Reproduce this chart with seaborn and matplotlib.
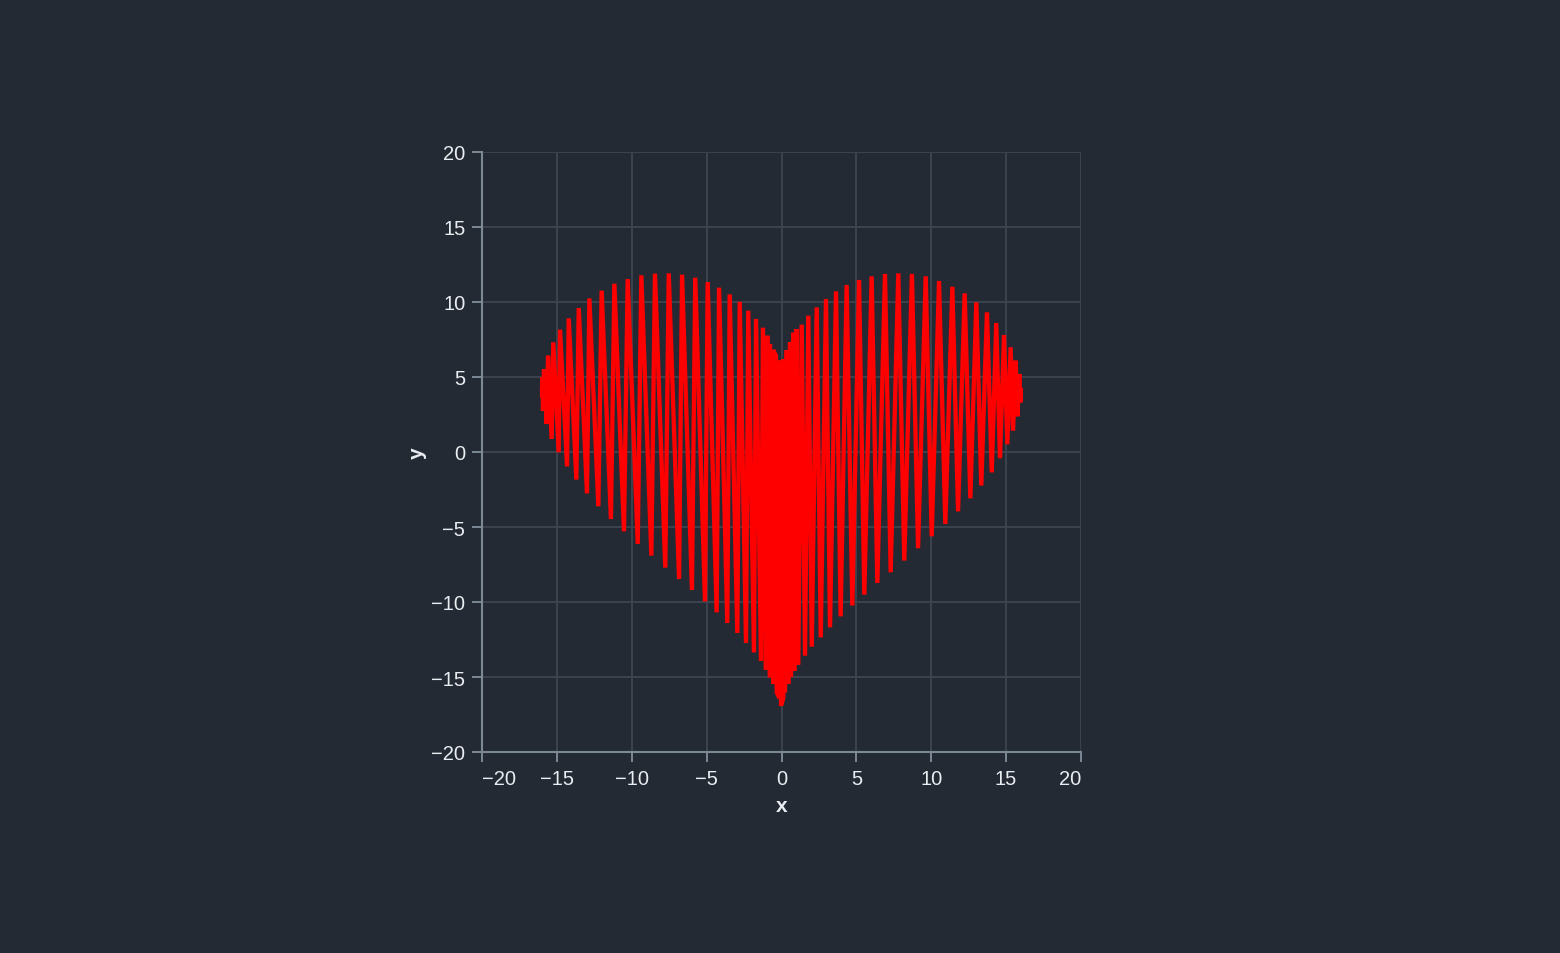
import pandas as pd
import matplotlib
matplotlib.use("Agg")
import matplotlib.pyplot as plt
import seaborn as sns

# vertices: upper lobe of the heart
upper_x = [-16.0, -15.95, -15.86, -15.59, -15.24, -14.79, -14.21, -13.54, -12.83, -12.01,
           -11.16, -10.27, -9.36, -8.45, -7.53, -6.64, -5.76, -4.93, -4.17, -3.46,
           -2.79, -2.22, -1.70, -1.24, -0.95, -0.77, -0.55, -0.37, -0.15, -0.05,
           0.12, 0.35, 0.57, 0.79, 1.0, 1.35, 1.79, 2.35, 2.97, 3.64,
           4.35, 5.18, 6.02, 6.91, 7.80, 8.71, 9.63, 10.52, 11.41, 12.23,
           13.01, 13.72, 14.34, 14.86, 15.30, 15.64, 15.88, 15.99]
upper_y = [4.2, 5.0, 5.53, 6.42, 7.31, 8.16, 8.91, 9.6, 10.24, 10.76,
           11.22, 11.53, 11.78, 11.89, 11.91, 11.82, 11.62, 11.33, 10.96, 10.51,
           10.02, 9.42, 8.87, 8.29, 7.75, 7.2, 6.8, 6.42, 6.09, 5.8,
           6.2, 6.8, 7.3, 7.95, 8.2, 8.49, 9.09, 9.64, 10.2, 10.71,
           11.13, 11.47, 11.71, 11.87, 11.91, 11.87, 11.71, 11.4, 11.02, 10.58,
           9.98, 9.31, 8.6, 7.8, 6.98, 6.09, 5.2, 4.2]

# lower half of the heart
lower_x = [-15.98, -15.93, -15.68, -15.35, -14.88, -14.32, -13.70, -12.99, -12.23, -11.39,
           -10.52, -9.60, -8.69, -7.76, -6.84, -5.98, -5.11, -4.33, -3.62, -2.95,
           -2.37, -1.84, -1.37, -1.04, -0.77, -0.55, -0.32, -0.15, -0.03,
           0.01, 0.12, 0.23, 0.45, 0.63, 0.85, 1.12, 1.57, 2.02, 2.62,
           3.24, 3.95, 4.73, 5.53, 6.40, 7.29, 8.20, 9.12, 10.03, 10.94,
           11.79, 12.61, 13.34, 14.04, 14.59, 15.08, 15.46, 15.75, 15.95]
lower_y = [3.6, 2.76, 1.87, 0.87, -0.02, -0.96, -1.84, -2.76, -3.62, -4.47,
           -5.29, -6.13, -6.91, -7.71, -8.47, -9.2, -9.96, -10.69, -11.4, -12.07,
           -12.73, -13.36, -13.93, -14.51, -15.02, -15.47, -16.02, -16.4, -16.8,
           -16.8, -16.4, -16.02, -15.47, -15.0, -14.6, -14.2, -13.58, -12.98, -12.36,
           -11.69, -10.96, -10.24, -9.51, -8.73, -8.02, -7.24, -6.42, -5.62, -4.8,
           -3.96, -3.09, -2.24, -1.36, -0.42, 0.51, 1.42, 2.38, 3.31]

ticks = [-20, -15, -10, -5, 0, 5, 10, 15, 20]

df = pd.DataFrame({"x": upper_x + lower_x, "y": upper_y + lower_y})

bg = "#232a34"
grid_c = "#3d4650"
axis_c = "#7d8895"
text_c = "#e9edf1"

sns.set_style("dark")
plt.rcParams["font.family"] = ["Liberation Sans", "DejaVu Sans"]

fig = plt.figure(figsize=(15.6, 9.54), dpi=100, facecolor=bg)
ax = fig.add_axes([482 / 1560, 1 - 753 / 954, 599 / 1560, 600 / 954])
ax.set_facecolor(bg)

sns.lineplot(data=df, x="x", y="y", sort=True, estimator=None, color="#ff0000",
             linewidth=3.1, ax=ax, zorder=3)
for ln in ax.lines:
    ln.set_solid_joinstyle("miter")

ax.set_xlim(-20, 20)
ax.set_ylim(-20, 20)
ax.set_xticks(ticks)
ax.set_yticks(ticks)
ax.grid(True, color=grid_c, linewidth=1.3, zorder=0)
ax.set_axisbelow(True)

for side in ["top", "right"]:
    ax.spines[side].set_visible(False)
for side in ["left", "bottom"]:
    ax.spines[side].set_color(axis_c)
    ax.spines[side].set_linewidth(1.5)

ax.tick_params(colors=axis_c, labelcolor=text_c, labelsize=14.5, length=7, width=1.4,
               direction="out", left=True, bottom=True)
ax.tick_params(axis="x", pad=5)
ax.tick_params(axis="y", pad=5)

# first and last x labels sit flush with the axis ends
xlabels = ax.get_xticklabels()
xlabels[0].set_horizontalalignment("left")
xlabels[-1].set_horizontalalignment("right")

ax.set_xlabel("x", color=text_c, fontsize=15, fontweight="bold", labelpad=6)
ax.set_ylabel("y", color=text_c, fontsize=15, fontweight="bold", labelpad=3)

fig.savefig("out.png", dpi=100, facecolor=bg)
